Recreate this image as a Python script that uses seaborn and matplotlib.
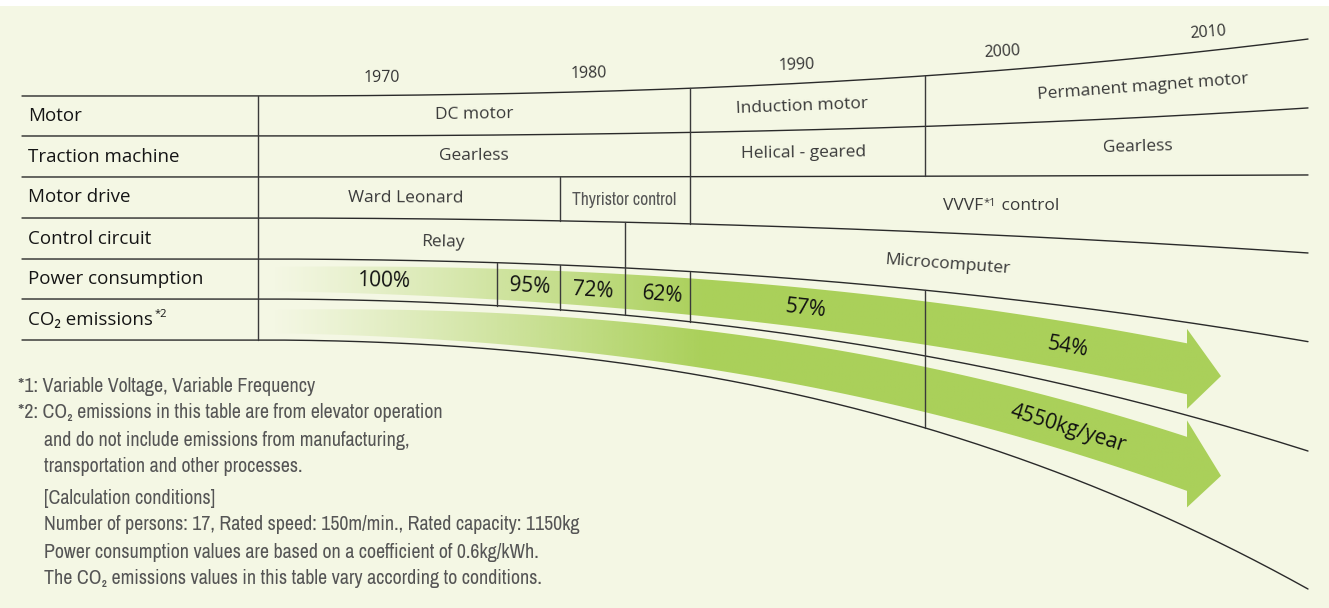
import numpy as np
import pandas as pd
import seaborn as sns
import matplotlib.pyplot as plt
from matplotlib import font_manager
from matplotlib.patches import Polygon, Rectangle

# --- content -------------------------------------------------------------
row_labels = ['Motor', 'Traction machine', 'Motor drive', 'Control circuit',
              'Power consumption', 'CO\u2082 emissions']
years = ['1970', '1980', '1990', '2000', '2010']
motor = ['DC motor', 'Induction motor', 'Permanent magnet motor']
traction = ['Gearless', 'Helical - geared', 'Gearless']
drive = ['Ward Leonard', 'Thyristor control']
circuit = ['Relay', 'Microcomputer']
power_pct = [100, 95, 72, 62, 57, 54]
co2_value = 4550
notes = ['*1: Variable Voltage, Variable Frequency',
         '*2: CO\u2082 emissions in this table are from elevator operation',
         'and do not include emissions from manufacturing,',
         'transportation and other processes.',
         '[Calculation conditions]',
         'Number of persons: 17, Rated speed: 150m/min., Rated capacity: 1150kg',
         'Power consumption values are based on a coefficient of 0.6kg/kWh.',
         'The CO\u2082 emissions values in this table vary according to conditions.']

# --- layout (pixel space) ------------------------------------------------
W, H = 1329, 608
X0, XS, XE = 22, 258, 1308
line_y0 = [96, 136, 177, 218, 259, 299, 340]
line_pts = [[(690, 88), (925, 76), (1308, 39)],
            [(690, 133), (925, 126), (1308, 108)],
            [(690, 177), (925, 176), (1308, 175)],
            [(560, 221), (690, 224), (880, 230), (1308, 253)],
            [(497, 264), (560, 267), (625, 269), (690, 272), (880, 285), (925, 289), (1308, 342)],
            [(497, 305), (625, 315), (690, 322), (880, 348), (925, 356), (1308, 451)],
            [(880, 415), (925, 428), (1308, 589)]]
dividers = [(258, 0, 6), (690, 0, 3), (690, 4, 5), (925, 0, 2), (925, 4, 6),
            (560, 2, 3), (560, 4, 5), (625, 3, 5), (497, 4, 5)]
year_x = [382, 589, 797, 1002, 1208]
motor_x = [474, 802, 1143]
traction_x = [474, 804, 1138]
drive_x = [406, 624]
circuit_x = [443, 948]
power_x = [384, 530, 593, 663, 806, 1068]
co2_x = 1068
notes_x = [18, 18, 44, 44, 44, 44, 44, 44]
notes_y = [387, 413, 440, 466, 498, 525, 552, 578]
NOTE_WIDTH = 536      # pixel width of the longest footnote line
THY_WIDTH = 104       # pixel width of "Thyristor control"

BG = '#F4F7E4'
GREEN = np.array([170, 208, 90]) / 255
LINE = '#2a2a2a'

sns.set_theme(style='white')

# fonts
flist = font_manager.fontManager.ttflist
available = {f.name for f in flist}
MAIN = next((n for n in ['Open Sans', 'Noto Sans', 'Lato'] if n in available), 'DejaVu Sans')


def wnum(w):
    return w if isinstance(w, (int, float)) else font_manager.weight_dict.get(str(w), 400)


narrow = [f for f in flist if f.style == 'normal' and
          ('Narrow' in f.name or 'Condensed' in f.name or str(f.stretch) in ('condensed', 'semi-condensed'))]
narrow.sort(key=lambda f: (abs(wnum(f.weight) - 400), f.name != MAIN, 'Narrow' not in f.name))
plt.rcParams['font.family'] = [MAIN, 'DejaVu Sans']
if narrow:
    nf = narrow[0]
    NOTE = dict(family=[nf.name, 'DejaVu Sans'], stretch=nf.stretch, weight=wnum(nf.weight))
else:
    NOTE = dict()


def make_curve(y0, pts):
    px = np.array([p[0] for p in pts], float) - XS
    py = np.array([p[1] for p in pts], float) - y0
    c, *_ = np.linalg.lstsq(np.column_stack([px ** 2, px ** 3]), py, rcond=None)

    def f(x):
        u = np.clip(np.asarray(x, float) - XS, 0, None)
        return y0 + c[0] * u ** 2 + c[1] * u ** 3
    return f


curves = [make_curve(y0, p) for y0, p in zip(line_y0, line_pts)]


def mid(r, x):
    return (curves[r](x) + curves[r + 1](x)) / 2


def ang(r, x, k=1.0):
    s = (mid(r, x + 2) - mid(r, x - 2)) / 4
    return -np.degrees(np.arctan(s)) * k


fig = plt.figure(figsize=(W / 100, H / 100), dpi=100, facecolor='white')
ax = fig.add_axes([0, 0, 1, 1])
ax.add_patch(Rectangle((0, 6), W, H - 6, facecolor=BG, edgecolor='none', zorder=0))
renderer = fig.canvas.get_renderer()

# table lines
xs = np.linspace(X0, XE, 500)
lines_df = pd.concat([pd.DataFrame({'x': xs, 'y': f(xs), 'line': i}) for i, f in enumerate(curves)])
sns.lineplot(data=lines_df, x='x', y='y', units='line', estimator=None, sort=False,
             color=LINE, lw=1.0, ax=ax, zorder=3)
for x, a, b in dividers:
    ax.plot([x, x], [curves[a](x), curves[b](x)], color='#3a3a3a', lw=1.0, zorder=3)


# green arrows
def arrow(top, bot, frac0, frac1, hw0, hw1, head_half, x_start=262, x_base=1187, x_tip=1221):
    def centre(x):
        fr = np.interp(x, [x_start, x_tip], [frac0, frac1])
        return top(x) + fr * (bot(x) - top(x))
    bx = np.linspace(x_start, x_base, 300)
    cy = centre(bx)
    hw = np.interp(bx, [x_start, x_base], [hw0, hw1])
    cb, ct = centre(x_base), centre(x_tip)
    verts = np.vstack([np.column_stack([bx, cy - hw]),
                       [[x_base, cb - head_half], [x_tip, ct], [x_base, cb + head_half]],
                       np.column_stack([bx[::-1], (cy + hw)[::-1]])])
    n = 700
    gx = np.linspace(x_start, x_tip, n)
    rgba = np.zeros((1, n, 4))
    rgba[..., :3] = GREEN
    rgba[..., 3] = np.clip((gx - 272) / 430, 0, 1) ** 1.1
    im = ax.imshow(rgba, extent=(x_start, x_tip, verts[:, 1].max() + 5, verts[:, 1].min() - 5),
                   aspect='auto', interpolation='bilinear', zorder=1)
    poly = Polygon(verts, closed=True, facecolor='none', edgecolor='none', transform=ax.transData)
    ax.add_patch(poly)
    im.set_clip_path(poly)


arrow(curves[4], curves[5], 0.5, 0.5, 12.0, 25.5, 40)
arrow(curves[5], curves[6], 0.55, 0.43, 11.5, 27.0, 43.5)

# row headings
for r, lab in enumerate(row_labels):
    t = ax.text(28, mid(r, X0 + 50), lab, ha='left', va='center', fontsize=13.5, color='#151515', zorder=4)
ax.annotate('*2', xy=(1, 1), xycoords=t, xytext=(1.5, 1), textcoords='offset points',
            ha='left', va='top', fontsize=8, color='#151515')

cell = dict(ha='center', va='center', fontsize=12.5, color='#3a3a3a', rotation_mode='anchor', zorder=4)
# years above top line
for lab, x in zip(years, year_x):
    y = curves[0](x) - 18
    s = (curves[0](x + 2) - curves[0](x - 2)) / 4
    ax.text(x, y, lab, rotation=-np.degrees(np.arctan(s)) * 0.7,
            **{**cell, 'fontsize': 11.5, 'color': '#333333'})
for lab, x in zip(motor, motor_x):
    ax.text(x, mid(0, x), lab, rotation=ang(0, x), **cell)
for lab, x in zip(traction, traction_x):
    ax.text(x, mid(1, x), lab, rotation=ang(1, x), **cell)
ax.text(drive_x[0], mid(2, drive_x[0]), drive[0], rotation=ang(2, drive_x[0]), **cell)
thy = ax.text(drive_x[1], mid(2, drive_x[1]) + 1, drive[1], **{**cell, **NOTE, 'fontsize': 12, 'color': '#555555'})
thy.set_fontsize(12 * THY_WIDTH / thy.get_window_extent(renderer).width)
# VVVF*1 control
v = ax.text(983, mid(2, 1000), 'VVVF', ha='right', va='center', fontsize=12.5, color='#3a3a3a', zorder=4)
ax.annotate('*1', xy=(1, 1), xycoords=v, xytext=(0.5, 0), textcoords='offset points',
            ha='left', va='top', fontsize=8, color='#3a3a3a')
ax.annotate(' control', xy=(1, 0), xycoords=v, xytext=(10, 0), textcoords='offset points',
            ha='left', va='bottom', fontsize=12.5, color='#3a3a3a')
for lab, x in zip(circuit, circuit_x):
    ax.text(x, mid(3, x) + 2, lab, rotation=ang(3, x), **cell)

pct = dict(ha='center', va='center', fontsize=15, color='#111111', rotation_mode='anchor', zorder=4)
for p, x in zip(power_pct, power_x):
    ax.text(x, mid(4, x) + 1, f'{p}%', rotation=ang(4, x), **pct)
ax.text(co2_x, mid(5, co2_x) - 2, f'{co2_value}kg/year', rotation=ang(5, co2_x), **pct)

note_texts = [ax.text(x, y, lab, ha='left', va='center', color='#555555', fontsize=12, **NOTE)
              for lab, x, y in zip(notes, notes_x, notes_y)]
widest = max(t.get_window_extent(renderer).width for t in note_texts)
for t in note_texts:
    t.set_fontsize(min(12 * NOTE_WIDTH / widest, 14.5))

ax.set_xlim(0, W)
ax.set_ylim(H, 0)
ax.set_axis_off()
fig.savefig('out.png', dpi=100, facecolor='white')
